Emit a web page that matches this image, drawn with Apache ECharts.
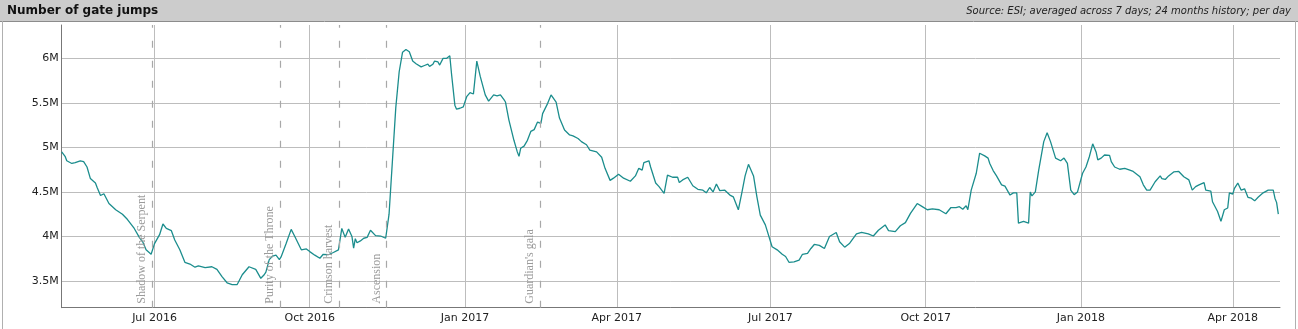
<!DOCTYPE html>
<html><head><meta charset="utf-8">
<script src="https://cdn.jsdelivr.net/npm/echarts@6/dist/echarts.min.js"></script>
<style>html,body{margin:0;padding:0;background:#fff}#c{width:1298px;height:329px}</style>
</head><body><div id="c"></div>
<script>
// Day 0 of the history window (local date): 2016-05-07
const startDay = [2016, 4, 7];
const endDayOffset = 722;

// Days since start date
const dayOffsets = [0,2,3,4,6,8,11,13,15,17,20,21,23,25,28,29,32,36,39,43,46,48,50,53,55,58,60,62,65,67,70,73,76,79,81,85,89,92,95,98,101,104,107,111,115,118,120,121,123,125,127,129,130,133,136,138,142,145,147,150,153,155,158,161,164,166,168,170,172,173,174,175,177,179,181,183,186,189,192,193,194,196,198,200,202,204,206,208,210,213,215,217,218,220,221,223,224,226,228,230,231,233,234,236,238,239,240,242,244,246,248,251,253,254,256,258,260,262,263,265,268,270,271,272,274,276,278,280,282,284,285,288,290,293,295,298,301,303,306,308,311,313,317,320,322,325,327,330,333,337,340,342,344,345,348,349,350,352,354,357,359,362,365,366,368,371,374,377,380,382,384,386,388,390,393,396,398,401,403,405,407,408,410,412,414,417,421,424,427,429,431,434,437,439,442,444,446,449,452,455,459,461,464,467,471,474,478,481,484,488,490,494,497,500,503,507,510,513,516,520,524,527,530,532,534,536,537,539,542,544,547,549,550,552,554,557,559,562,564,566,567,570,573,574,575,577,579,582,584,586,589,592,594,596,598,600,602,603,605,607,609,611,613,614,616,618,619,621,622,624,627,630,633,635,636,639,641,643,645,648,651,652,654,656,659,662,665,668,670,672,674,677,678,681,682,685,687,689,691,692,694,695,697,699,700,701,703,705,707,709,712,715,718,719,720,721];

// Gate jumps per day (millions), 7-day average
const jumpsMillions = [4.95,4.90,4.85,4.87,4.82,4.83,4.85,4.84,4.78,4.65,4.60,4.55,4.46,4.48,4.37,4.36,4.30,4.25,4.19,4.09,3.99,3.94,3.85,3.80,3.92,4.02,4.14,4.09,4.065,3.96,3.85,3.71,3.69,3.655,3.67,3.65,3.66,3.63,3.55,3.48,3.46,3.46,3.57,3.66,3.63,3.53,3.57,3.60,3.74,3.78,3.79,3.74,3.77,3.92,4.08,4.005,3.85,3.86,3.83,3.79,3.755,3.80,3.795,3.82,3.85,4.09,3.99,4.085,4.00,3.87,3.975,3.93,3.95,3.98,3.99,4.07,4.01,4.005,3.98,4.00,4.25,4.85,5.45,5.85,6.07,6.10,6.075,5.97,5.94,5.905,5.92,5.935,5.91,5.935,5.97,5.96,5.925,6.0,6.0,6.03,5.83,5.475,5.43,5.44,5.455,5.44,5.57,5.615,5.60,5.97,5.80,5.59,5.52,5.525,5.59,5.58,5.59,5.54,5.51,5.31,5.08,4.95,4.90,4.99,5.015,5.08,5.18,5.20,5.285,5.27,5.38,5.495,5.59,5.51,5.33,5.195,5.14,5.13,5.10,5.065,5.03,4.97,4.95,4.89,4.765,4.63,4.655,4.70,4.655,4.62,4.68,4.765,4.745,4.83,4.85,4.78,4.785,4.60,4.56,4.485,4.69,4.665,4.665,4.605,4.635,4.665,4.57,4.53,4.52,4.49,4.55,4.50,4.59,4.515,4.52,4.465,4.445,4.30,4.485,4.68,4.81,4.82,4.68,4.445,4.24,4.13,3.885,3.85,3.80,3.775,3.71,3.715,3.735,3.80,3.81,3.865,3.91,3.90,3.865,4.0,4.045,3.94,3.88,3.925,4.03,4.045,4.03,4.005,4.07,4.13,4.065,4.055,4.12,4.155,4.26,4.37,4.335,4.30,4.31,4.30,4.255,4.325,4.325,4.335,4.305,4.345,4.30,4.52,4.71,4.935,4.905,4.88,4.82,4.74,4.68,4.58,4.565,4.465,4.49,4.49,4.15,4.17,4.15,4.50,4.455,4.50,4.745,5.065,5.165,5.065,4.88,4.85,4.88,4.82,4.52,4.47,4.50,4.52,4.71,4.78,4.895,5.04,4.95,4.86,4.88,4.915,4.895,4.91,4.84,4.78,4.755,4.765,4.745,4.73,4.745,4.67,4.58,4.52,4.52,4.615,4.68,4.65,4.64,4.68,4.725,4.73,4.67,4.635,4.52,4.56,4.58,4.605,4.52,4.51,4.39,4.28,4.17,4.30,4.32,4.49,4.475,4.54,4.60,4.52,4.50,4.535,4.44,4.43,4.40,4.44,4.49,4.52,4.52,4.43,4.38,4.25];

// Game events (dashed markers)
const eventNames = ['Shadow of the Serpent', 'Purity of the Throne', 'Crimson harvest', 'Ascension', "Guardian's gala"];
const eventDates = ['2016-06-29 12', '2016-09-13 12', '2016-10-18 12', '2016-11-15 12', '2017-02-14 12'];

const monthNames = ['Jan','Feb','Mar','Apr','May','Jun','Jul','Aug','Sep','Oct','Nov','Dec'];
const titleText = 'Number of gate jumps';
const sourceText = 'Source: ESI; averaged across 7 days; 24 months history; per day';

function dayToTime(d) { return new Date(startDay[0], startDay[1], startDay[2] + d).getTime(); }
function parseLocal(s) {
  const p = s.split(/[- ]/).map(Number);
  return new Date(p[0], p[1] - 1, p[2], p[3] || 0).getTime();
}

const seriesData = dayOffsets.map((d, i) => [dayToTime(d), jumpsMillions[i]]);
const markData = eventNames.map((n, i) => ({ name: n, xAxis: parseLocal(eventDates[i]) }));

const chart = echarts.init(document.getElementById('c'), null, { renderer: 'canvas' });
chart.setOption({
  animation: false,
  backgroundColor: '#ffffff',
  graphic: [
    { type: 'rect', z: 0, shape: { x: 0, y: 0, width: 1298, height: 21 }, style: { fill: '#cccccc' } },
    { type: 'line', z: 1, shape: { x1: 0, y1: 21.5, x2: 1298, y2: 21.5 }, style: { stroke: '#8c8c8c', lineWidth: 1 } },
    { type: 'line', z: 1, shape: { x1: 2.5, y1: 21, x2: 2.5, y2: 329 }, style: { stroke: '#b0b0b0', lineWidth: 1 } },
    { type: 'line', z: 1, shape: { x1: 1295.5, y1: 21, x2: 1295.5, y2: 329 }, style: { stroke: '#b0b0b0', lineWidth: 1 } }
  ],
  title: [
    { text: titleText, left: 7, top: 5, padding: 0,
      textStyle: { fontFamily: 'DejaVu Sans', fontSize: 12, fontWeight: 'bold', color: '#111' } },
    { text: sourceText, right: 7, top: 6, padding: 0,
      textStyle: { fontFamily: 'DejaVu Sans', fontSize: 10, fontStyle: 'italic', fontWeight: 'normal', color: '#222' } }
  ],
  grid: { left: 61.7, right: 18, top: 25, bottom: 21.3, containLabel: false },
  xAxis: {
    type: 'time',
    min: dayToTime(0),
    max: dayToTime(endDayOffset),
    minInterval: 100 * 86400000,
    maxInterval: 100 * 86400000,
    axisLine: { show: true, lineStyle: { color: '#777', width: 1 } },
    axisTick: { show: false },
    splitLine: { show: true, showMinLine: false, showMaxLine: false, lineStyle: { color: '#bdbdbd', width: 1 } },
    axisLabel: {
      margin: 5,
      fontFamily: 'DejaVu Sans', fontSize: 11, color: '#222',
      hideOverlap: false,
      formatter: function (v) {
        const d = new Date(v);
        if (d.getDate() !== 1 || d.getMonth() % 3 !== 0 || d.getHours() !== 0) return '';
        return monthNames[d.getMonth()] + ' ' + d.getFullYear();
      }
    }
  },
  yAxis: {
    type: 'value',
    min: 3.2,
    max: 6.375,
    splitNumber: 6,
    axisLine: { show: true, lineStyle: { color: '#777', width: 1 } },
    axisTick: { show: false },
    splitLine: { show: true, showMinLine: false, showMaxLine: false, lineStyle: { color: '#bdbdbd', width: 1 } },
    axisLabel: {
      margin: 3,
      showMinLabel: false, showMaxLabel: false,
      fontFamily: 'DejaVu Sans', fontSize: 11, color: '#222',
      formatter: function (v) { return (Math.round(v * 10) / 10) + 'M'; }
    }
  },
  series: [{
    type: 'line',
    data: seriesData,
    showSymbol: false,
    symbol: 'none',
    lineStyle: { color: '#1b8d8d', width: 1.3 },
    z: 3,
    markLine: {
      silent: true,
      symbol: ['none', 'none'],
      lineStyle: { color: '#a8a8a8', type: [7, 13], width: 1.2 },
      label: {
        show: true,
        position: 'insideStartTop',
        formatter: '{b}',
        fontFamily: 'Liberation Serif',
        fontSize: 12,
        color: '#9a9a9a',
        distance: 4
      },
      data: markData
    }
  }]
});
</script></body></html>
